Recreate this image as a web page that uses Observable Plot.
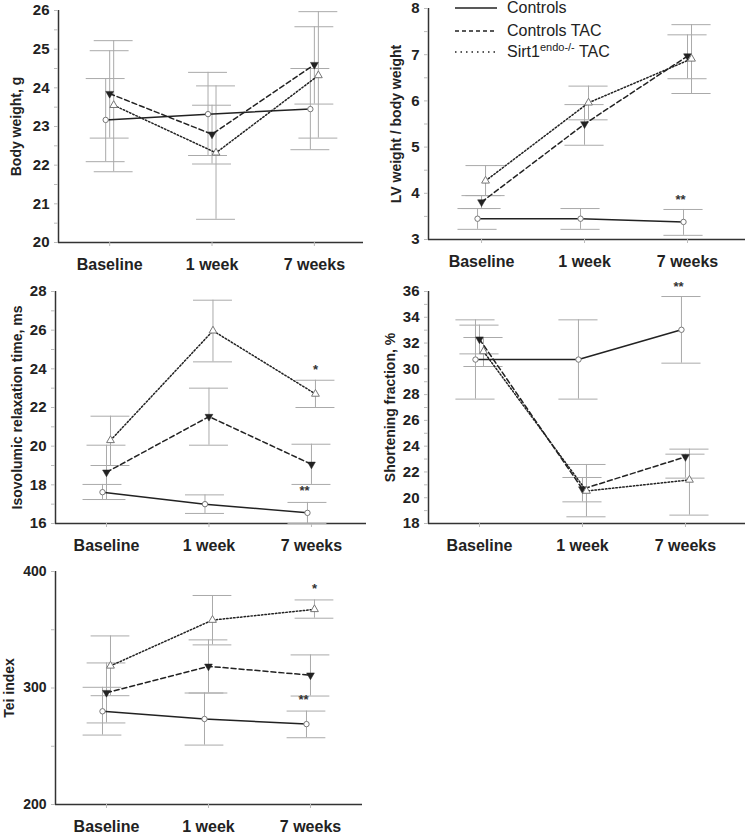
<!DOCTYPE html>
<html><head><meta charset="utf-8">
<script src="https://cdn.jsdelivr.net/npm/d3@7"></script>
<script src="https://cdn.jsdelivr.net/npm/@observablehq/plot@0.6"></script>
<style>
body{margin:0;background:#fff;font-family:"Liberation Sans",Arial,sans-serif;}
#root{position:relative;width:745px;height:838px;overflow:hidden;background:#fff}
.panel{position:absolute}
.legend{position:absolute;left:455px;top:0;font-size:16px;color:#222;line-height:1}
.legend .row{position:absolute;left:0;white-space:nowrap;display:flex;align-items:center;height:20px}
.legend svg{display:block;margin-right:10px}
.legend sup{font-size:11px;vertical-align:6px;line-height:0}
</style></head><body><div id="root"></div>
<script>
// ---- data ----
const categories = ["Baseline", "1 week", "7 weeks"];
const seriesNames = ["Controls", "Controls TAC", "Sirt1 endo-/- TAC"];

// rows: Controls, Controls TAC, Sirt1 endo-/- TAC ; columns: Baseline, 1 week, 7 weeks
const bodyWeightMean = [[23.17, 23.32, 23.45], [23.85, 22.80, 24.60], [23.55, 22.32, 24.32]];
const bodyWeightLow  = [[22.09, 22.25, 22.40], [22.70, 22.03, 23.58], [21.83, 20.60, 22.70]];
const bodyWeightHigh = [[24.24, 24.40, 24.50], [24.96, 23.55, 25.58], [25.22, 24.05, 25.97]];

const lvMean = [[3.45, 3.45, 3.38], [3.81, 5.50, 6.97], [4.27, 5.96, 6.91]];
const lvLow  = [[3.22, 3.22, 3.09], [3.67, 5.04, 6.48], [3.95, 5.59, 6.16]];
const lvHigh = [[3.67, 3.67, 3.65], [3.95, 5.92, 7.43], [4.60, 6.32, 7.65]];

const ivrtMean = [[17.62, 17.00, 16.55], [18.65, 21.53, 19.06], [20.30, 25.97, 22.70]];
const ivrtLow  = [[17.24, 16.52, 16.00], [17.24, 20.05, 18.02], [19.00, 24.36, 22.00]];
const ivrtHigh = [[18.02, 17.48, 17.09], [20.05, 23.00, 20.10], [21.55, 27.55, 23.41]];

const sfMean = [[30.72, 30.72, 33.03], [32.30, 20.67, 23.17], [31.35, 20.52, 21.38]];
const sfLow  = [[27.65, 27.65, 30.44], [31.16, 19.68, 21.52], [30.18, 18.52, 18.65]];
const sfHigh = [[33.80, 33.80, 35.61], [33.39, 21.57, 23.38], [32.43, 22.58, 23.77]];

const teiMean = [[280.0, 273.4, 269.0], [296.0, 318.6, 311.0], [319.0, 358.3, 367.5]];
const teiLow  = [[259.6, 251.0, 257.3], [270.0, 295.7, 293.1], [293.4, 337.0, 359.9]];
const teiHigh = [[300.6, 295.7, 280.2], [321.5, 341.3, 328.4], [344.7, 379.4, 375.6]];

// significance annotations: label, time index, series index, value
const lvStarText = ["**"],        lvStarTime = [2],      lvStarSeries = [0],      lvStarValue = [3.86];
const ivrtStarText = ["*", "**"], ivrtStarTime = [2, 2], ivrtStarSeries = [2, 0], ivrtStarValue = [23.95, 17.70];
const sfStarText = ["**"],        sfStarTime = [2],      sfStarSeries = [0],      sfStarValue = [36.35];
const teiStarText = ["*", "**"],  teiStarTime = [2, 2],  teiStarSeries = [2, 0],  teiStarValue = [385, 290];

// ---- styling (not data) ----
const seriesOffset = [-4, 0, 4];
const starShift = [-3, 0, 0];
const seriesDash = [null, "5,3", "1.5,2"];
const capHalf = 0.19;
const ink = "#222";
const errColor = "#aaa";

function rows(mean, low, high) {
  const out = [];
  mean.forEach((vals, s) => vals.forEach((v, i) => out.push({s, i, mean: v, lo: low[s][i], hi: high[s][i]})));
  return out;
}
function stars(text, time, series, value) {
  return text.map((t, k) => ({t, i: time[k], s: series[k], v: value[k]}));
}

function panel(cfg) {
  const data = rows(cfg.mean, cfg.low, cfg.high);
  const marks = [];
  marks.push(Plot.ruleX([cfg.xDomain[0]], {stroke: "#333", strokeWidth: 1.5}));
  marks.push(Plot.ruleY([cfg.yDomain[0]], {stroke: "#333", strokeWidth: 1.5}));
  marks.push(Plot.axisY({ticks: cfg.yMinor, tickSize: 4, stroke: "#bbb", tickFormat: () => "", label: null}));
  marks.push(Plot.axisY({ticks: cfg.yTicks, tickSize: 4, tickPadding: 5, stroke: "#bbb", fill: ink,
    tickFormat: d => String(d), fontSize: cfg.yFont, fontWeight: "bold", label: null}));
  marks.push(Plot.axisX({ticks: [0, 1, 2], tickFormat: i => categories[i], tickSize: 4, tickPadding: 12,
    stroke: "#bbb", fill: ink, fontSize: 16, fontWeight: "bold", label: null}));
  marks.push(Plot.text([cfg.label], {frameAnchor: "left", textAnchor: "middle", lineAnchor: "middle", rotate: -90,
    dx: cfg.labelDx, fontSize: 14, fontWeight: "bold", fill: ink}));
  for (let s = 0; s < 3; s++) {
    const d = data.filter(r => r.s === s);
    marks.push(Plot.ruleX(d, {x: "i", y1: "lo", y2: "hi", dx: seriesOffset[s], stroke: errColor, strokeWidth: 1}));
    marks.push(Plot.ruleY(d, {y: "lo", x1: r => r.i - capHalf, x2: r => r.i + capHalf, dx: seriesOffset[s], stroke: errColor, strokeWidth: 1}));
    marks.push(Plot.ruleY(d, {y: "hi", x1: r => r.i - capHalf, x2: r => r.i + capHalf, dx: seriesOffset[s], stroke: errColor, strokeWidth: 1}));
  }
  for (let s = 0; s < 3; s++) {
    const d = data.filter(r => r.s === s);
    marks.push(Plot.line(d, {x: "i", y: "mean", dx: seriesOffset[s], stroke: ink, strokeWidth: 1.5,
      strokeDasharray: seriesDash[s]}));
  }
  marks.push(Plot.dot(data.filter(r => r.s === 0), {x: "i", y: "mean", dx: seriesOffset[0], symbol: "circle", r: 2.7, fill: "white", stroke: "#777", strokeWidth: 1}));
  marks.push(Plot.dot(data.filter(r => r.s === 1), {x: "i", y: "mean", dx: seriesOffset[1], symbol: "triangle", rotate: 180, r: 2.9, fill: ink, stroke: ink, strokeWidth: 0.5}));
  marks.push(Plot.dot(data.filter(r => r.s === 2), {x: "i", y: "mean", dx: seriesOffset[2], symbol: "triangle", r: 2.9, fill: "white", stroke: "#777", strokeWidth: 1}));
  if (cfg.stars) {
    for (let s = 0; s < 3; s++) {
      const st = cfg.stars.filter(r => r.s === s);
      if (st.length) marks.push(Plot.text(st, {x: "i", y: "v", text: "t", dx: seriesOffset[s] + starShift[s],
        fontSize: 13, fontWeight: "bold", fill: "#333"}));
    }
  }
  const chart = Plot.plot({
    width: cfg.width, height: cfg.height,
    marginLeft: cfg.marginLeft, marginRight: cfg.marginRight,
    marginTop: cfg.marginTop, marginBottom: cfg.marginBottom,
    x: {type: "linear", domain: cfg.xDomain},
    y: {type: "linear", domain: cfg.yDomain},
    style: {fontFamily: "'Liberation Sans', Arial, sans-serif", fontSize: "15px", color: ink, background: "transparent", overflow: "visible"},
    marks
  });
  const div = document.createElement("div");
  div.className = "panel";
  div.style.left = cfg.left + "px";
  div.style.top = cfg.top + "px";
  div.appendChild(chart);
  document.getElementById("root").appendChild(div);
}

panel({left: 0, top: 0, width: 372, height: 280, marginLeft: 58, marginRight: 9, marginTop: 10, marginBottom: 38,
  xDomain: [-0.5, 2.48], yDomain: [20, 26], yTicks: d3.range(20, 26.01, 1), yMinor: d3.range(20.5, 26, 1), yFont: 15,
  label: "Body weight, g", labelDx: -42,
  mean: bodyWeightMean, low: bodyWeightLow, high: bodyWeightHigh});

panel({left: 372, top: 0, width: 373, height: 280, marginLeft: 56, marginRight: 0, marginTop: 8, marginBottom: 41,
  xDomain: [-0.515, 2.563], yDomain: [3, 8], yTicks: d3.range(3, 8.01, 1), yMinor: d3.range(3.5, 8, 1), yFont: 15,
  label: "LV weight / body weight", labelDx: -32,
  mean: lvMean, low: lvLow, high: lvHigh, stars: stars(lvStarText, lvStarTime, lvStarSeries, lvStarValue)});

panel({left: 0, top: 280, width: 372, height: 280, marginLeft: 55, marginRight: 6, marginTop: 11, marginBottom: 37,
  xDomain: [-0.4976, 2.537], yDomain: [16, 28], yTicks: d3.range(16, 28.01, 2), yMinor: d3.range(17, 28, 2), yFont: 15,
  label: "Isovolumic relaxation time, ms", labelDx: -38,
  mean: ivrtMean, low: ivrtLow, high: ivrtHigh, stars: stars(ivrtStarText, ivrtStarTime, ivrtStarSeries, ivrtStarValue)});

panel({left: 372, top: 280, width: 373, height: 280, marginLeft: 56, marginRight: 0, marginTop: 11, marginBottom: 37,
  xDomain: [-0.495, 2.583], yDomain: [18, 36], yTicks: d3.range(18, 36.01, 2), yMinor: d3.range(19, 36, 2), yFont: 15,
  label: "Shortening fraction, %", labelDx: -38,
  mean: sfMean, low: sfLow, high: sfHigh, stars: stars(sfStarText, sfStarTime, sfStarSeries, sfStarValue)});

panel({left: 0, top: 560, width: 372, height: 278, marginLeft: 55, marginRight: 10, marginTop: 11, marginBottom: 34,
  xDomain: [-0.5, 2.51], yDomain: [200, 400], yTicks: [200, 300, 400], yMinor: [250, 350], yFont: 14,
  label: "Tei index", labelDx: -46,
  mean: teiMean, low: teiLow, high: teiHigh, stars: stars(teiStarText, teiStarTime, teiStarSeries, teiStarValue)});

// ---- legend ----
const legend = document.createElement("div");
legend.className = "legend";
const legendTops = [-2, 21, 42];
seriesNames.forEach((name, s) => {
  const row = document.createElement("div");
  row.className = "row";
  row.style.top = legendTops[s] + "px";
  const dash = [null, "4,3", "1.5,4"][s];
  row.innerHTML = `<svg width="42" height="4"><line x1="0" x2="42" y1="2" y2="2" stroke="${ink}" stroke-width="1.3" ${dash ? `stroke-dasharray="${dash}"` : ""}/></svg>` +
    (s === 2 ? `<span>Sirt1<sup>endo-/-</sup> TAC</span>` : `<span>${name}</span>`);
  legend.appendChild(row);
});
document.getElementById("root").appendChild(legend);
</script></body></html>
